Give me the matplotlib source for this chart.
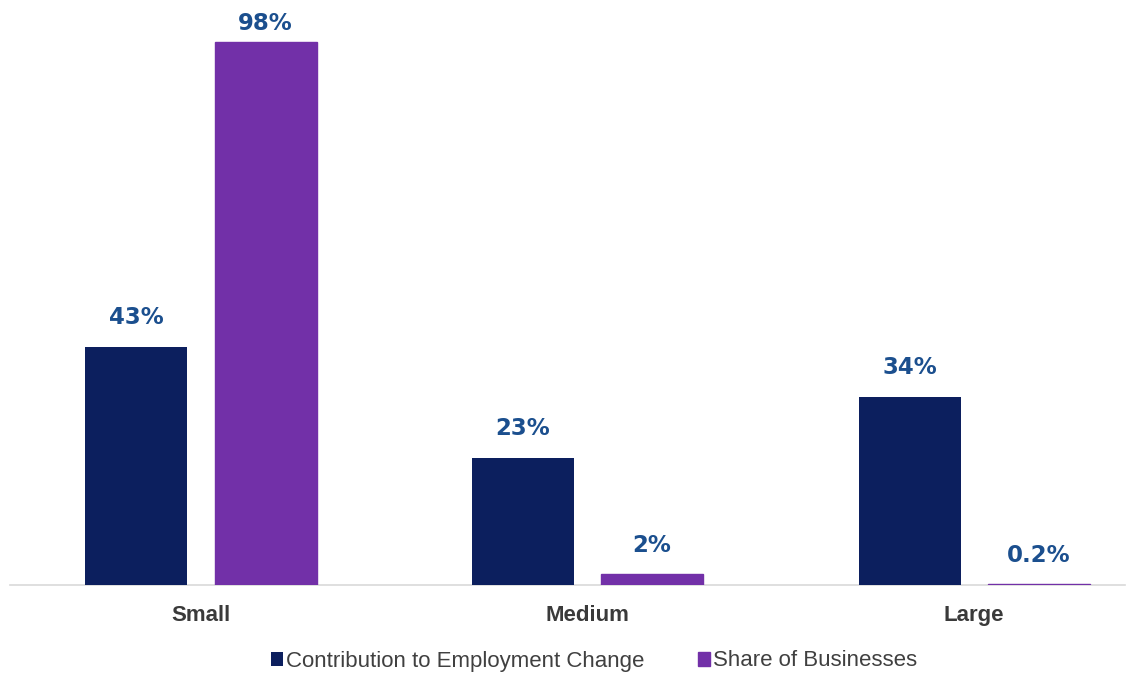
import matplotlib
matplotlib.use("Agg")
import matplotlib.pyplot as plt
import numpy as np

plt.rcParams['font.family'] = ['Liberation Sans', 'DejaVu Sans']

categories = ["Small", "Medium", "Large"]
series_names = ["Contribution to Employment Change", "Share of Businesses"]
employment = [43, 23, 34]
businesses = [98, 2, 0.2]
employment_labels = ["43%", "23%", "34%"]
business_labels = ["98%", "2%", "0.2%"]

navy = "#0c1f5e"
purple = "#7230a8"
label_color = "#1b4f8e"

W, H = 1133, 676
fig = plt.figure(figsize=(W/100, H/100), dpi=100)
ax = fig.add_axes([10/W, 1 - 585/H, (1125-10)/W, 585/H])

x = np.arange(len(categories))
w = 0.264
off = 0.167
b1 = ax.bar(x - off, employment, w, color=navy, label=series_names[0], zorder=3)
b2 = ax.bar(x + off, businesses, w, color=purple, label=series_names[1],
            edgecolor=purple, linewidth=1.0, zorder=3)

ax.set_xlim(-0.494, 2.39)
ax.set_ylim(0, 105.6)

for bars, labs in ((b1, employment_labels), (b2, business_labels)):
    for r, t in zip(bars, labs):
        top_px = ax.transData.transform((0, r.get_height()))[1]
        gap = 12.5 if top_px + 17 + 22 < H - 12 else 5
        ax.annotate(t, (r.get_x() + r.get_width()/2, r.get_height()),
                    xytext=(0, gap), textcoords="offset points",
                    ha="center", va="bottom", fontsize=16.5, fontweight="bold",
                    color=label_color, family="DejaVu Sans")

for s in ["top", "right", "left"]:
    ax.spines[s].set_visible(False)
ax.spines["bottom"].set_color("#d9d9d9")
ax.spines["bottom"].set_linewidth(1.2)
ax.spines["bottom"].set_zorder(1)
ax.set_yticks([])
ax.set_xticks(x)
ax.set_xticklabels(categories, fontsize=16, fontweight="bold", color="#3a3a3a")
ax.tick_params(axis="x", length=0, pad=14.5)

leg = fig.legend(handles=[b1, b2], labels=series_names, loc="center",
                 bbox_to_anchor=(594/W, 1 - 661/H), ncol=2, frameon=False,
                 fontsize=16, handlelength=0.55, handleheight=0.6,
                 handletextpad=0.15, columnspacing=2.4)
for t in leg.get_texts():
    t.set_color("#404040")

fig.savefig("out.png", dpi=100, facecolor="white")
